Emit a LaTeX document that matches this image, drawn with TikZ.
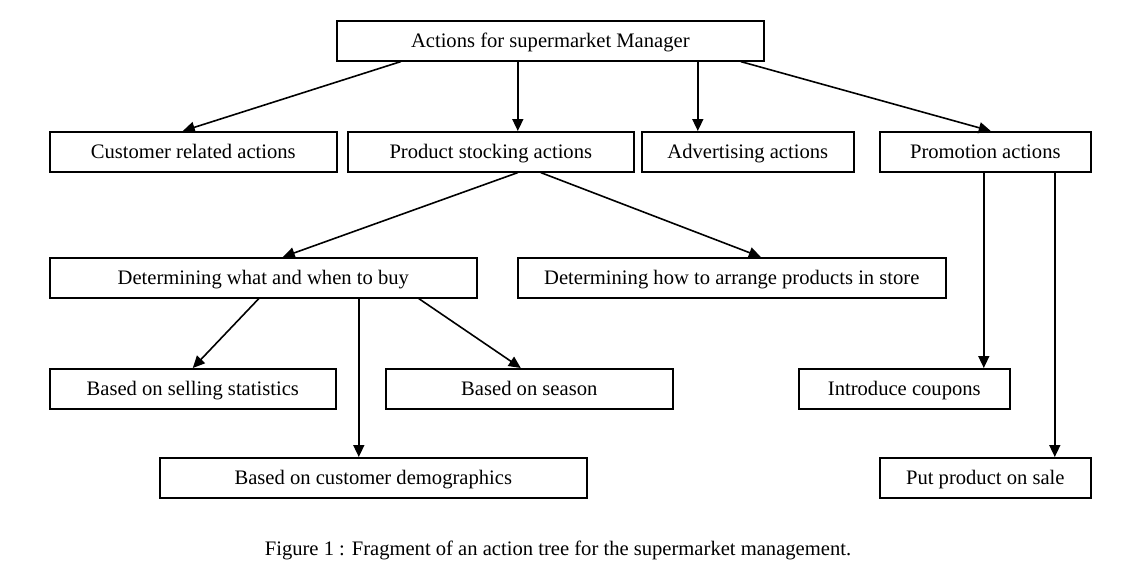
\documentclass[tikz,border=0pt]{standalone}
\usepackage{fontspec}
\setmainfont{Liberation Serif}
\usetikzlibrary{arrows.meta}
\begin{document}
\begin{tikzpicture}[x=1pt,y=-1pt,
  box/.style={draw,line width=1.6pt,rectangle,inner sep=0pt,anchor=north west,text height=15.5pt,text depth=3pt,font=\fontsize{20.6}{24}\selectfont},
  arr/.style={line width=1.6pt,-{Triangle[length=12pt,width=11pt]}}]
\useasboundingbox (0,0) rectangle (1135,571);
\newcommand{\bx}[6]{\node[box,minimum width=#4-#2,minimum height=#5-#3] (#1) at (#2,#3) {#6};}
\bx{top}{336}{20}{763}{60}{Actions for supermarket Manager}
\bx{cust}{49}{131}{336}{171}{Customer related actions}
\bx{prod}{347}{131}{633}{171}{Product stocking actions}
\bx{adv}{641}{131}{853}{171}{Advertising actions}
\bx{promo}{879}{131}{1090}{171}{Promotion actions}
\bx{what}{49}{257}{476}{297}{Determining what and when to buy}
\bx{how}{517}{257}{945}{297}{Determining how to arrange products in store}
\bx{sell}{49}{368}{335}{408}{Based on selling statistics}
\bx{season}{385}{368}{672}{408}{Based on season}
\bx{demo}{159}{457}{586}{497}{Based on customer demographics}
\bx{coup}{798}{368}{1009}{408}{Introduce coupons}
\bx{sale}{879}{457}{1090}{497}{Put product on sale}
\node[font=\fontsize{20.6}{24}\selectfont] (cap) at (558,550) {Figure 1 : Fragment of an action tree for the supermarket management.};
\draw[arr] ([xshift=-149.5pt]top.south) -- ([xshift=-10.5pt]cust.north);
\draw[arr] ([xshift=-32.5pt]top.south) -- ([xshift=27pt]prod.north);
\draw[arr] ([xshift=147.5pt]top.south) -- ([xshift=-50pt]adv.north);
\draw[arr] ([xshift=190.5pt]top.south) -- ([xshift=5.5pt]promo.north);
\draw[arr] ([xshift=27pt]prod.south) -- ([xshift=19.5pt]what.north);
\draw[arr] ([xshift=50pt]prod.south) -- ([xshift=29pt]how.north);
\draw[arr] ([xshift=-4.5pt]what.south) -- ([xshift=0pt]sell.north);
\draw[arr] ([xshift=95.5pt]what.south) -- ([xshift=-14.5pt]demo.north);
\draw[arr] ([xshift=155.5pt]what.south) -- ([xshift=-8.5pt]season.north);
\draw[arr] ([xshift=-1.5pt]promo.south) -- ([xshift=79.5pt]coup.north);
\draw[arr] ([xshift=69.5pt]promo.south) -- ([xshift=69.5pt]sale.north);
\end{tikzpicture}
\end{document}
